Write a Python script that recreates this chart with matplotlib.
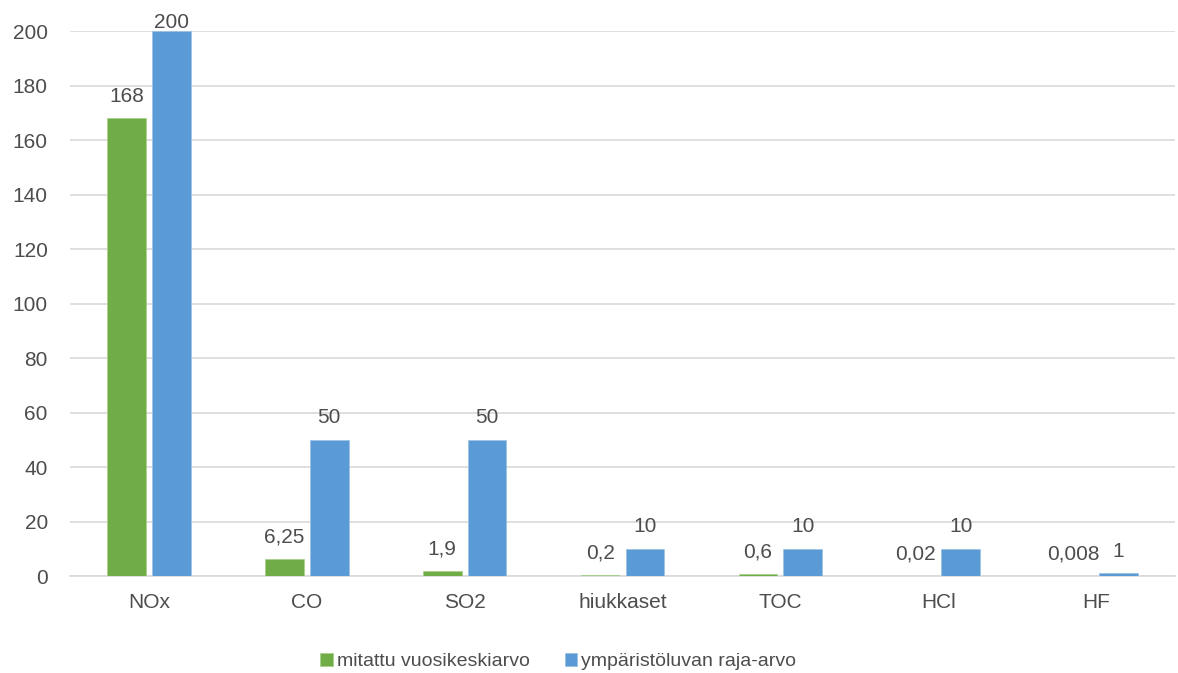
import numpy as np
import matplotlib.pyplot as plt

plt.rcParams['font.family'] = ['Liberation Sans Narrow', 'Liberation Sans', 'DejaVu Sans']

categories = ['NOx', 'CO', 'SO2', 'hiukkaset', 'TOC', 'HCl', 'HF']
measured = [168, 6.25, 1.9, 0.2, 0.6, 0.02, 0.008]
limit = [200, 50, 50, 10, 10, 10, 1]
measured_labels = ['168', '6,25', '1,9', '0,2', '0,6', '0,02', '0,008']
limit_labels = ['200', '50', '50', '10', '10', '10', '1']
yticks = list(range(0, 201, 20))

green = '#70AD47'
blue = '#5B9BD5'
text_col = '#4D4D4D'

fig = plt.figure(figsize=(11.78, 6.73), dpi=100)
ax = fig.add_axes([0.0594, 0.1441, 0.9381, 0.8098])

x = np.arange(len(categories))
w = 0.245
off = 0.142
b1 = ax.bar(x - off, measured, w, color=green, edgecolor='#A9D18E', linewidth=0.6,
            label='mitattu vuosikeskiarvo', zorder=3)
b2 = ax.bar(x + off, limit, w, color=blue, edgecolor='#9DC3E6', linewidth=0.6,
            label='ympäristöluvan raja-arvo', zorder=3)


def put_labels(bars, labels):
    for rect, lab in zip(bars, labels):
        h = rect.get_height()
        # labels near the top of the plot area are pushed down to stay inside
        dy = 2 if h > 190 else 12
        ax.annotate(lab, (rect.get_x() + rect.get_width() / 2, h),
                    xytext=(0, dy), textcoords='offset points', ha='center',
                    va='baseline', fontsize=15, color=text_col,
                    annotation_clip=False, zorder=4)


put_labels(b1, measured_labels)
put_labels(b2, limit_labels)

ax.set_xlim(-0.5, len(categories) - 0.5)
ax.set_ylim(0, 200)
ax.set_yticks(yticks)
ax.set_xticks(x)
ax.set_xticklabels(categories)
ax.tick_params(axis='both', length=0, labelsize=15, colors=text_col)
ax.tick_params(axis='x', pad=12)
ax.tick_params(axis='y', pad=16)
ax.grid(axis='y', color='#D9D9D9', linewidth=1.2, zorder=0)
for s in ['top', 'right', 'left']:
    ax.spines[s].set_visible(False)
ax.spines['bottom'].set_color('#D9D9D9')
ax.spines['bottom'].set_linewidth(1.2)

ax.legend(loc='lower center', bbox_to_anchor=(0.442, -0.205), ncol=2, frameon=False,
          fontsize=14, handlelength=0.65, handleheight=0.65, handletextpad=0.2,
          columnspacing=1.8, labelcolor=text_col)

fig.savefig('out.png', dpi=100)
